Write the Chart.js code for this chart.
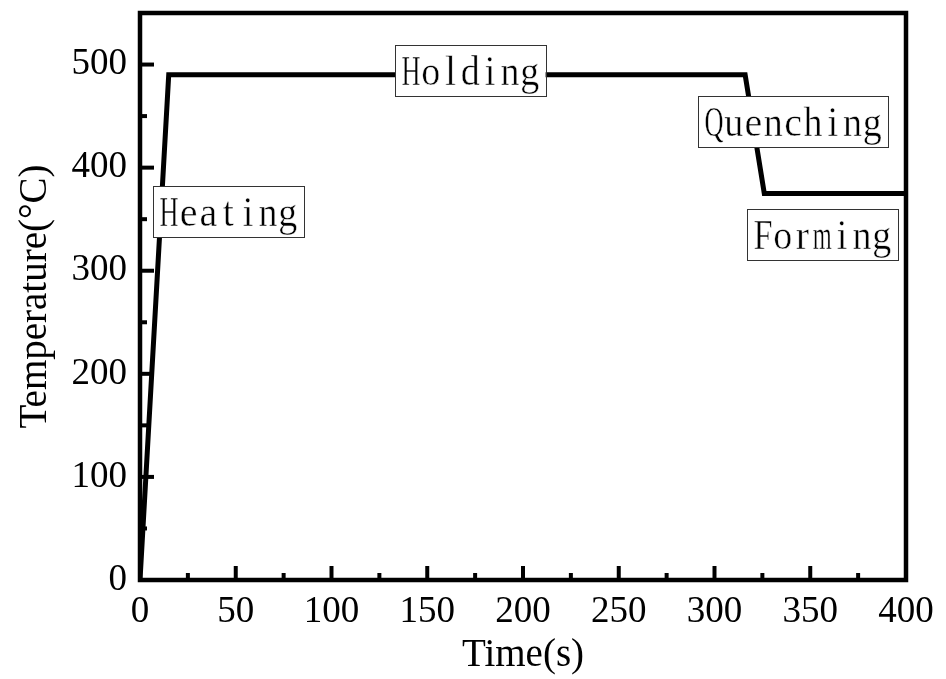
<!DOCTYPE html>
<html>
<head>
<meta charset="utf-8">
<script src="https://cdn.jsdelivr.net/npm/chart.js@4/dist/chart.umd.min.js"></script>
<style>
  html, body { margin: 0; padding: 0; background: #fff; }
  #wrap { width: 946px; height: 679px; }
</style>
</head>
<body>
<div id="wrap"><canvas id="c" width="946" height="679"></canvas></div>
<script>
// Process profile: time (s) vs. temperature (°C)
const timeSec = [0, 15, 316, 326, 400];
const tempC   = [0, 490, 490, 375, 375];

// Axis ticks
const xMajorTicks = [0, 50, 100, 150, 200, 250, 300, 350, 400];
const xMinorTicks = [25, 75, 125, 175, 225, 275, 325, 375];
const yMajorTicks = [0, 100, 200, 300, 400, 500];
const yMinorTicks = [50, 150, 250, 350, 450];

// Stage annotations (anchored at data coordinates)
const stageNames = ['Heating', 'Holding', 'Quenching', 'Forming'];
const stageX     = [46, 172.5, 341, 356.5];
const stageY     = [357, 494, 445, 335];

const serif = '"Liberation Serif", "Times New Roman", serif';

const framePlugin = {
  id: 'frameAndTicks',
  afterDraw(chart) {
    const { ctx, chartArea: a, scales: { x, y } } = chart;
    ctx.save();
    ctx.strokeStyle = '#000';
    ctx.lineWidth = 4;
    ctx.lineCap = 'butt';
    // inward ticks on bottom and left axes
    const tick = (px, py, dx, dy) => {
      ctx.beginPath(); ctx.moveTo(px, py); ctx.lineTo(px + dx, py + dy); ctx.stroke();
    };
    xMajorTicks.forEach(v => tick(x.getPixelForValue(v), a.bottom, 0, -14));
    xMinorTicks.forEach(v => tick(x.getPixelForValue(v), a.bottom, 0, -7));
    yMajorTicks.forEach(v => tick(a.left, y.getPixelForValue(v), 14, 0));
    yMinorTicks.forEach(v => tick(a.left, y.getPixelForValue(v), 7, 0));
    ctx.lineWidth = 4.5;
    ctx.strokeRect(a.left, a.top, a.right - a.left, a.bottom - a.top);
    ctx.restore();
  }
};

// Boxed stage names, typeset on a fixed-width grid with light strokes
const stageLabelPlugin = {
  id: 'stageLabels',
  afterDatasetsDraw(chart) {
    const { ctx, scales: { x, y } } = chart;
    const cell = 19.8;
    const h = 51;
    ctx.save();
    stageNames.forEach((name, i) => {
      const cx = x.getPixelForValue(stageX[i]);
      const cy = y.getPixelForValue(stageY[i]);
      const w = name.length * cell + 12;
      const left = Math.round(cx - w / 2);
      const top = Math.round(cy - h / 2);
      ctx.fillStyle = '#fff';
      ctx.fillRect(left, top, w, h);
      ctx.strokeStyle = '#333';
      ctx.lineWidth = 1;
      ctx.strokeRect(left + 0.5, top + 0.5, Math.round(w), h);
      ctx.font = 'normal 400 40px "Liberation Serif"';
      ctx.textAlign = 'center';
      ctx.textBaseline = 'alphabetic';
      const base = top + h - 11;
      [...name].forEach((ch, k) => {
        const gx = left + 6 + cell * (k + 0.5);
        const gw = ctx.measureText(ch).width;
        const sx = Math.min(1, (cell * 0.96) / gw);
        ctx.save();
        ctx.translate(gx, base);
        ctx.scale(sx, 1.06);
        ctx.fillStyle = '#000';
        ctx.fillText(ch, 0, 0);
        ctx.strokeStyle = '#fff';
        ctx.lineWidth = 0.45;
        ctx.strokeText(ch, 0, 0);
        ctx.restore();
      });
    });
    ctx.restore();
  }
};

new Chart(document.getElementById('c'), {
  type: 'line',
  data: {
    datasets: [{
      data: timeSec.map((t, i) => ({ x: t, y: tempC[i] })),
      borderColor: '#000',
      borderWidth: 5,
      borderJoinStyle: 'miter',
      pointRadius: 0,
      tension: 0,
      fill: false
    }]
  },
  options: {
    responsive: false,
    animation: false,
    devicePixelRatio: 1,
    layout: { padding: { top: 13, right: 40, left: 0, bottom: 0 } },
    plugins: { legend: { display: false }, tooltip: { enabled: false } },
    scales: {
      x: {
        type: 'linear', min: 0, max: 400,
        grid: { display: false, drawTicks: false },
        border: { display: false },
        afterBuildTicks: s => { s.ticks = xMajorTicks.map(v => ({ value: v })); },
        afterFit: s => { s.height = 99; s.paddingLeft = 0; s.paddingRight = 0; },
        ticks: { color: '#000', padding: 10, maxRotation: 0, font: { family: serif, size: 37 } },
        title: { display: true, text: 'Time(s)', color: '#000', padding: { top: 0, bottom: 0 }, font: { family: serif, size: 39 } }
      },
      y: {
        type: 'linear', min: 0, max: 550,
        grid: { display: false, drawTicks: false },
        border: { display: false },
        afterBuildTicks: s => { s.ticks = yMajorTicks.map(v => ({ value: v })); },
        afterFit: s => { s.width = 140; s.paddingTop = 0; s.paddingBottom = 0; },
        ticks: { color: '#000', padding: 13, font: { family: serif, size: 37 } },
        title: { display: true, text: 'Temperature(°C)', color: '#000', padding: { top: 12, bottom: 0 }, font: { family: serif, size: 39 } }
      }
    }
  },
  plugins: [stageLabelPlugin, framePlugin]
});
</script>
</body>
</html>
